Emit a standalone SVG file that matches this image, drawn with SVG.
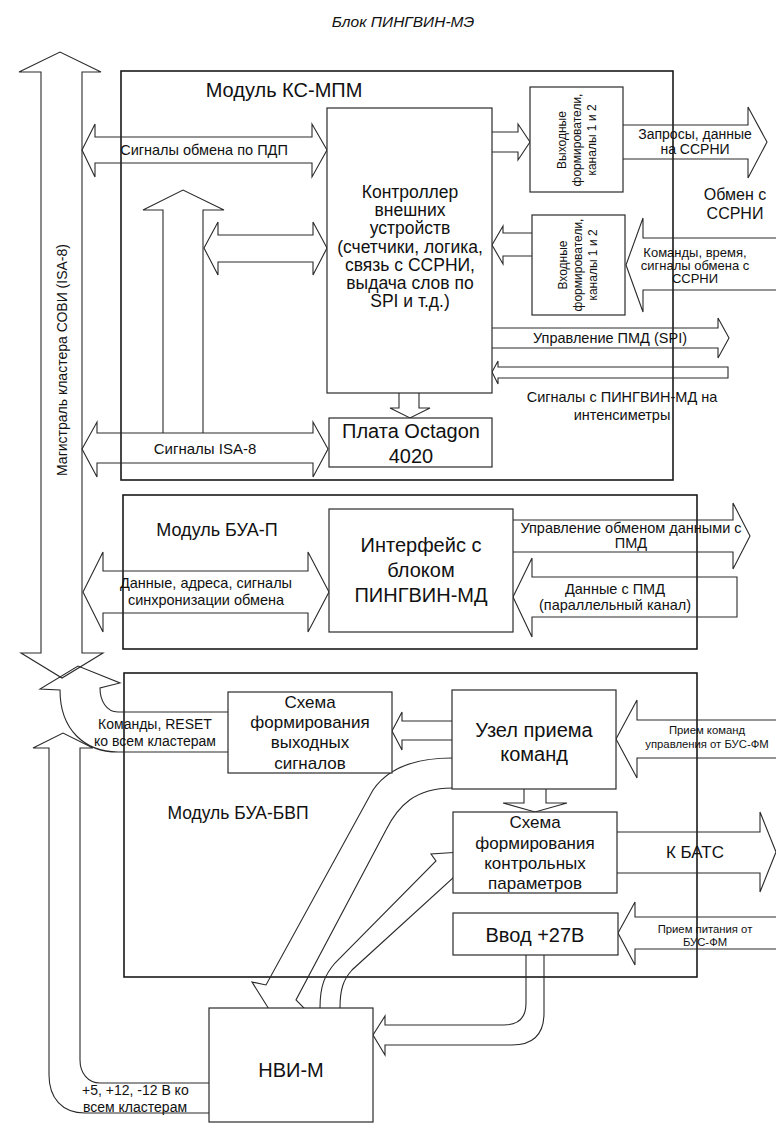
<svg xmlns="http://www.w3.org/2000/svg" width="776" height="1130" viewBox="0 0 776 1130">
<style>
.mod{fill:none;stroke:#1a1a1a;stroke-width:1.6}
.box{fill:#fff;stroke:#2a2a2a;stroke-width:1.2}
.ar{fill:none;stroke:#2a2a2a;stroke-width:1.1;stroke-linejoin:miter}
text{font-family:"Liberation Sans",Arial,sans-serif;fill:#111;text-anchor:middle}
.t14{font-size:14.5px}
.t10{font-size:11.3px}
.t12{font-size:12px}
.t17{font-size:17px}
.t18{font-size:17.5px}
.t20{font-size:20px}
</style>
<text x="403" y="27" style="font-size:15.5px;font-style:italic">Блок ПИНГВИН-МЭ</text>

<g id="mod-ks-mpm"><rect class="mod" x="121" y="71" width="552" height="409"/><text x="284" y="97" style="font-size:20px">Модуль КС-МПМ</text></g>
<g id="mod-bua-p"><rect class="mod" x="123" y="495" width="574" height="154"/><text x="217" y="536" style="font-size:18px">Модуль БУА-П</text></g>
<g id="mod-bua-bvp"><rect class="mod" x="124" y="673" width="573" height="304"/><text x="238" y="819" style="font-size:17.5px">Модуль БУА-БВП</text></g>

<g id="connectors">
<!-- ISA-8 cluster bus -->
<path class="ar" d="M41,653 L41,72 L19,72 L60,52 L101,72 L82,72 L82,653 L103,653 L62,678 L21,653 Z"/>
<text transform="translate(62,360) rotate(-90)" x="0" y="5" style="font-size:14px">Магистраль кластера СОВИ (ISA-8)</text>
<!-- PDP -->
<polygon class="ar" points="82,150 95,124 95,137 312,137 312,124 327,150 312,177 312,163 95,163 95,177"/>
<text class="t14" x="204" y="155">Сигналы обмена по ПДП</text>
<!-- inner up arrow -->
<polyline class="ar" points="163,433 163,210 143,210 183,190 224,210 203,210 203,433"/>
<polygon class="ar" points="204,248 218,222 218,235 313,235 313,222 327,248 313,275 313,262 218,262 218,275"/>
<!-- ISA-8 -->
<polygon class="ar" points="82,449 97,422 97,433 313,433 313,422 328,449 313,477 313,463 97,463 97,477"/>
<text x="205" y="454" style="font-size:15px">Сигналы ISA-8</text>
<!-- controller to plata -->
<polyline class="ar" points="399,393 399,408 390,408 410,418 430,408 419,408 419,393"/>
<!-- controller to output formers -->
<polyline class="ar" points="492,132 518,132 518,124 530,142 518,160 518,152 492,152"/>
<!-- requests -->
<polyline class="ar" points="623,125 748,125 748,107 767,142 748,178 748,159 623,159"/>
<text x="695" y="139" style="font-size:14px">Запросы, данные</text>
<text x="695" y="154" style="font-size:14px">на ССРНИ</text>
<text x="735" y="200" style="font-size:16px">Обмен с</text>
<text x="735" y="219" style="font-size:16px">ССРНИ</text>
<!-- input formers to controller -->
<polyline class="ar" points="532,233 503,233 503,226 492,245 503,264 503,256 532,256"/>
<!-- commands from SSRNI -->
<polyline class="ar" points="778,238 643,238 643,218 626,265 643,312 643,290 778,290"/>
<text x="695" y="257" style="font-size:13px">Команды, время,</text>
<text x="695" y="270" style="font-size:13px">сигналы обмена с</text>
<text x="695" y="283" style="font-size:13px">ССРНИ</text>
<!-- SPI -->
<polyline class="ar" points="492,328 718,328 718,318 729,338 718,358 718,348 492,348"/>
<text class="t14" x="610" y="343">Управление ПМД (SPI)</text>
<!-- signals to intensimeters -->
<polygon class="ar" points="492,372 498,361 498,367 728,367 728,378 498,378 498,384"/>
<text class="t14" x="622" y="402">Сигналы с ПИНГВИН-МД на</text>
<text class="t14" x="622" y="420">интенсиметры</text>
<!-- BUA-P data -->
<polygon class="ar" points="83,592 103,552 103,571 308,571 308,552 329,592 308,632 308,613 103,613 103,632"/>
<text class="t14" x="206" y="588">Данные, адреса, сигналы</text>
<text class="t14" x="206" y="605">синхронизации обмена</text>
<polyline class="ar" points="513,520 733,520 733,503 750,536 733,569 733,552 513,552"/>
<text class="t14" x="631" y="533">Управление обменом данными с</text>
<text class="t14" x="631" y="548">ПМД</text>
<polygon class="ar" points="513,597 532,558 532,577 737,577 737,617 532,617 532,637"/>
<text class="t14" x="615" y="594">Данные с ПМД</text>
<text class="t14" x="615" y="610">(параллельный канал)</text>
<!-- RESET arrow -->
<path class="ar" d="M228,712 L118,712 C106,712 100,700 100,688 L120,683 L78,666 L40,689 L60,690 C60,730 85,752 118,752 L228,752"/>
<text x="155" y="729" style="font-size:14px">Команды, RESET</text>
<text x="155" y="746" style="font-size:14px">ко всем кластерам</text>
<!-- power to clusters -->
<path class="ar" d="M209,1083 L100,1083 C88,1083 80,1073 80,1060 L80,748 L93,748 L63,733 L33,748 L49,748 L49,1075 C49,1098 62,1113 85,1113 L209,1113"/>
<text x="82" y="1095" style="font-size:14px;text-anchor:start">+5, +12, -12 В ко</text>
<text x="83" y="1112" style="font-size:14px;text-anchor:start">всем кластерам</text>
<!-- uzel to schema out -->
<polyline class="ar" points="452,721 402,721 402,712 392,731 402,750 402,740 452,740"/>
<!-- commands from BUS-FM -->
<polyline class="ar" points="778,720 637,720 637,700 616,739 637,778 637,758 778,758"/>
<text class="t10" x="707" y="734">Прием команд</text>
<text class="t10" x="707" y="748">управления от БУС-ФМ</text>
<!-- uzel to control params -->
<polyline class="ar" points="524,789 524,803 503,803 535,812 567,803 546,803 546,789"/>
<!-- to BATS -->
<polyline class="ar" points="617,832 760,832 760,812 776,852 760,892 760,873 617,873"/>
<text class="t17" x="695" y="858">К БАТС</text>
<!-- power from BUS-FM -->
<polyline class="ar" points="778,917 635,917 635,902 618,933 635,965 635,949 778,949"/>
<text class="t10" x="705" y="933">Прием питания от</text>
<text class="t10" x="705" y="946">БУС-ФМ</text>
<!-- vvod to NVI -->
<path class="ar" d="M526,955 L526,1003 Q526,1025 504,1025 L385,1025 L385,1016 L373,1035 L385,1055 L385,1045 L512,1045 Q544,1045 544,1013 L544,955"/>
<!-- uzel to NVI -->
<path class="ar" d="M452,758 C415,758 388,768 373,790 L266,985 L252,982 L272,1014 L306,1010 L296,1000 L386,830 C398,806 415,788 452,788"/>
<!-- NVI to control params -->
<path class="ar" d="M320,1008 C320,985 325,975 335,963 L436,861 L431,854 L461,852 L459,882 L455,876 L352,970 C343,980 340,990 340,1008"/>
</g>

<g id="controller"><rect class="box" x="327" y="108" width="165" height="285"/>
<text class="t18" x="410" y="198">Контроллер</text>
<text class="t18" x="410" y="216">внешних</text>
<text class="t18" x="410" y="234">устройств</text>
<text class="t18" x="410" y="253">(счетчики, логика,</text>
<text class="t18" x="410" y="271">связь с ССРНИ,</text>
<text class="t18" x="410" y="289">выдача слов по</text>
<text class="t18" x="410" y="307">SPI и т.д.)</text></g>
<g id="plata"><rect class="box" x="329" y="418" width="163" height="49"/>
<text class="t20" x="411" y="438">Плата Octagon</text>
<text class="t20" x="411" y="463">4020</text></g>
<g id="out-formers"><rect class="box" x="530" y="87" width="93" height="105"/>
<g transform="translate(577,140) rotate(-90)">
<text class="t12" x="0" y="-11">Выходные</text>
<text class="t12" x="0" y="4">формирователи,</text>
<text class="t12" x="0" y="19">каналы 1 и 2</text></g></g>
<g id="in-formers"><rect class="box" x="532" y="215" width="93" height="100"/>
<g transform="translate(578,265) rotate(-90)">
<text class="t12" x="0" y="-11">Входные</text>
<text class="t12" x="0" y="4">формирователи,</text>
<text class="t12" x="0" y="19">каналы 1 и 2</text></g></g>
<g id="interface"><rect class="box" x="329" y="509" width="184" height="123"/>
<text class="t20" x="421" y="552">Интерфейс с</text>
<text class="t20" x="421" y="577">блоком</text>
<text class="t20" x="421" y="602">ПИНГВИН-МД</text></g>
<g id="schema-out"><rect class="box" x="228" y="692" width="164" height="81"/>
<text class="t17" x="310" y="708">Схема</text>
<text class="t17" x="310" y="728">формирования</text>
<text class="t17" x="310" y="748">выходных</text>
<text class="t17" x="310" y="769">сигналов</text></g>
<g id="uzel"><rect class="box" x="452" y="690" width="164" height="99"/>
<text class="t20" x="534" y="737">Узел приема</text>
<text class="t20" x="534" y="761">команд</text></g>
<g id="schema-ctrl"><rect class="box" x="453" y="812" width="164" height="81"/>
<text class="t17" x="535" y="828">Схема</text>
<text class="t17" x="535" y="849">формирования</text>
<text class="t17" x="535" y="869">контрольных</text>
<text class="t17" x="535" y="889">параметров</text></g>
<g id="vvod"><rect class="box" x="453" y="913" width="165" height="42"/>
<text class="t20" x="535" y="942">Ввод +27В</text></g>
<g id="nvi"><rect class="box" x="209" y="1008" width="164" height="114"/>
<text class="t20" x="291" y="1077">НВИ-М</text></g>
</svg>
